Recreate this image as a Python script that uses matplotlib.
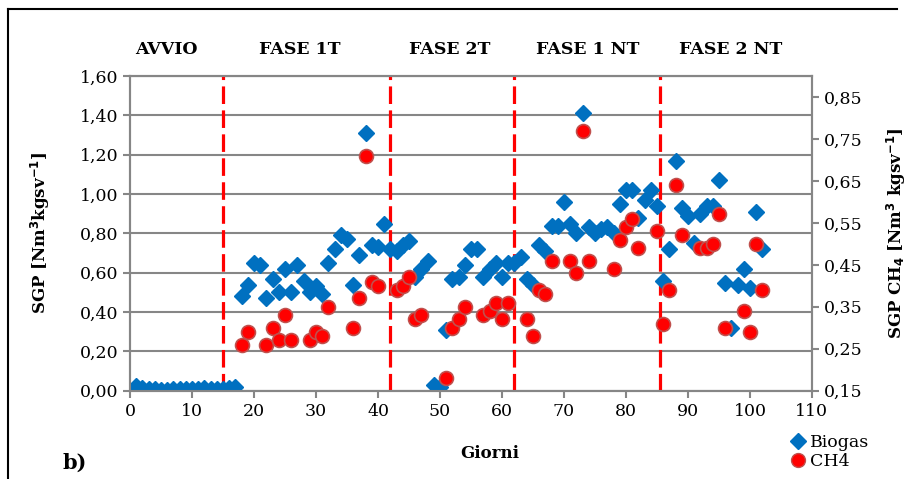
import numpy as np
import matplotlib
matplotlib.use('Agg')
import matplotlib.pyplot as plt
import matplotlib.ticker as ticker
from matplotlib.lines import Line2D

plt.rcParams['font.family'] = ['DejaVu Serif']
plt.rcParams['mathtext.default'] = 'regular'

# Biogas SGP (left axis)
biogas_days = list(range(1, 103))
biogas_vals = [0.025, 0.015, 0.010, 0.008, 0.006, 0.006, 0.008, 0.008, 0.008, 0.008,
               0.010, 0.012, 0.010, 0.010, 0.010, 0.012, 0.017,
               0.48, 0.54, 0.65, 0.64, 0.47, 0.57, 0.50, 0.62, 0.50, 0.64, 0.56, 0.50,
               0.53, 0.49, 0.65, 0.72, 0.79, 0.77, 0.54, 0.69, 1.31, 0.74, 0.73, 0.85,
               0.72, 0.71, 0.74, 0.76, 0.58, 0.62, 0.66, 0.03, 0.02, 0.31, 0.57, 0.58,
               0.64, 0.72, 0.72, 0.58, 0.62, 0.65, 0.58, 0.65, 0.65, 0.68, 0.57, 0.54,
               0.74, 0.71, 0.84, 0.84, 0.96, 0.85, 0.80, 1.41, 0.83, 0.80, 0.82, 0.83,
               0.80, 0.95, 1.02, 1.02, 0.88, 0.97, 1.02, 0.94, 0.56, 0.72, 1.17, 0.93,
               0.89, 0.75, 0.90, 0.94, 0.94, 1.07, 0.55, 0.32, 0.54, 0.62, 0.52, 0.91,
               0.72]

# CH4 SGP (right axis)
ch4_days = [18, 19, 22, 23, 24, 25, 26, 29, 30, 31, 32, 36, 37, 38, 39, 40, 43, 44, 45,
            46, 47, 51, 52, 53, 54, 57, 58, 59, 60, 61, 64, 65, 66, 67, 68, 71, 72, 73,
            74, 78, 79, 80, 81, 82, 85, 86, 87, 88, 89, 92, 93, 94, 95, 96, 99, 100,
            101, 102]
ch4_vals = [0.26, 0.29, 0.26, 0.30, 0.27, 0.33, 0.27, 0.27, 0.29, 0.28, 0.35, 0.30, 0.37,
            0.71, 0.41, 0.40, 0.39, 0.40, 0.42, 0.32, 0.33, 0.18, 0.30, 0.32, 0.35, 0.33,
            0.34, 0.36, 0.32, 0.36, 0.32, 0.28, 0.39, 0.38, 0.46, 0.46, 0.43, 0.77, 0.46,
            0.44, 0.51, 0.54, 0.56, 0.49, 0.53, 0.31, 0.39, 0.64, 0.52, 0.49, 0.49, 0.50,
            0.57, 0.30, 0.34, 0.29, 0.50, 0.39]

phase_lines = [15, 42, 62, 85.5]
phase_names = ['AVVIO', 'FASE 1T', 'FASE 2T', 'FASE 1 NT', 'FASE 2 NT']
phase_label_x = [5.8, 27.4, 51.5, 73.9, 96.9]

grey = '#868686'

fig = plt.figure(figsize=(9.19, 4.79), dpi=100)
ax = fig.add_axes([0.1415, 0.1843, 0.742, 0.657])
ax2 = ax.twinx()

ax.set_xlim(0, 110)
ax.set_ylim(0, 1.6)
ax2.set_ylim(0.15, 0.90)

ax.yaxis.grid(True, color=grey, linewidth=1.5)
ax.set_axisbelow(True)
ax.set_yticks(np.arange(0, 1.61, 0.2))
ax.set_xticks(np.arange(0, 111, 10))
ax2.set_yticks(np.arange(0.15, 0.86, 0.1))
ax.yaxis.set_major_formatter(ticker.FuncFormatter(lambda v, _: f'{v:.2f}'.replace('.', ',')))
ax2.yaxis.set_major_formatter(ticker.FuncFormatter(lambda v, _: f'{v:.2f}'.replace('.', ',')))

for a in (ax, ax2):
    for s in a.spines.values():
        s.set_color(grey)
        s.set_linewidth(1.5)
    a.tick_params(colors=grey, width=1.5, length=5, labelcolor='black', labelsize=12.5)

for xl in phase_lines:
    ax.axvline(xl, color='red', linewidth=2.3, linestyle=(0, (5.5, 2)), zorder=3)

ax.plot(biogas_days, biogas_vals, linestyle='none', marker='D', markersize=8.5,
        color='#0070C0', markeredgecolor='#0070C0', zorder=4)
ax2.plot(ch4_days, ch4_vals, linestyle='none', marker='o', markersize=10,
         color='#FF0000', markeredgecolor='#C0504D', markeredgewidth=1.2, zorder=5)

for name, px in zip(phase_names, phase_label_x):
    ax.text(px, 1.083, name, transform=ax.get_xaxis_transform(), ha='center', va='center',
            fontsize=12.5, fontweight='bold')

ax.set_ylabel('SGP [Nm$^{\\mathbf{3}}$kgsv$^{\\mathbf{-1}}$]', fontsize=12, fontweight='bold', labelpad=20)
ax2.set_ylabel('SGP CH$_{\\mathbf{4}}$ [Nm$^{\\mathbf{3}}$ kgsv$^{\\mathbf{-1}}$]', fontsize=12,
               fontweight='bold', labelpad=16)

fig.text(490 / 919, 1 - 453 / 479, 'Giorni', ha='center', va='center', fontsize=12, fontweight='bold')
fig.text(75 / 919, 1 - 463 / 479, 'b)', ha='center', va='center', fontsize=15, fontweight='bold')

handles = [Line2D([], [], linestyle='none', marker='D', markersize=8, color='#0070C0'),
           Line2D([], [], linestyle='none', marker='o', markersize=10, color='#FF0000',
                  markeredgecolor='#C0504D')]
fig.legend(handles, ['Biogas', 'CH4'], loc='center left', bbox_to_anchor=(779 / 919, 1 - 452 / 479),
           frameon=False, fontsize=12.5, handletextpad=0.1, labelspacing=0.1, handlelength=1.2,
           borderpad=0)

# frame around the panel
fig.add_artist(Line2D([8 / 919, 897 / 919], [1 - 9 / 479, 1 - 9 / 479], color='black', linewidth=1.5))
fig.add_artist(Line2D([8 / 919, 8 / 919], [1 - 9 / 479, 0], color='black', linewidth=1.5))

fig.savefig('out.png', dpi=100)
